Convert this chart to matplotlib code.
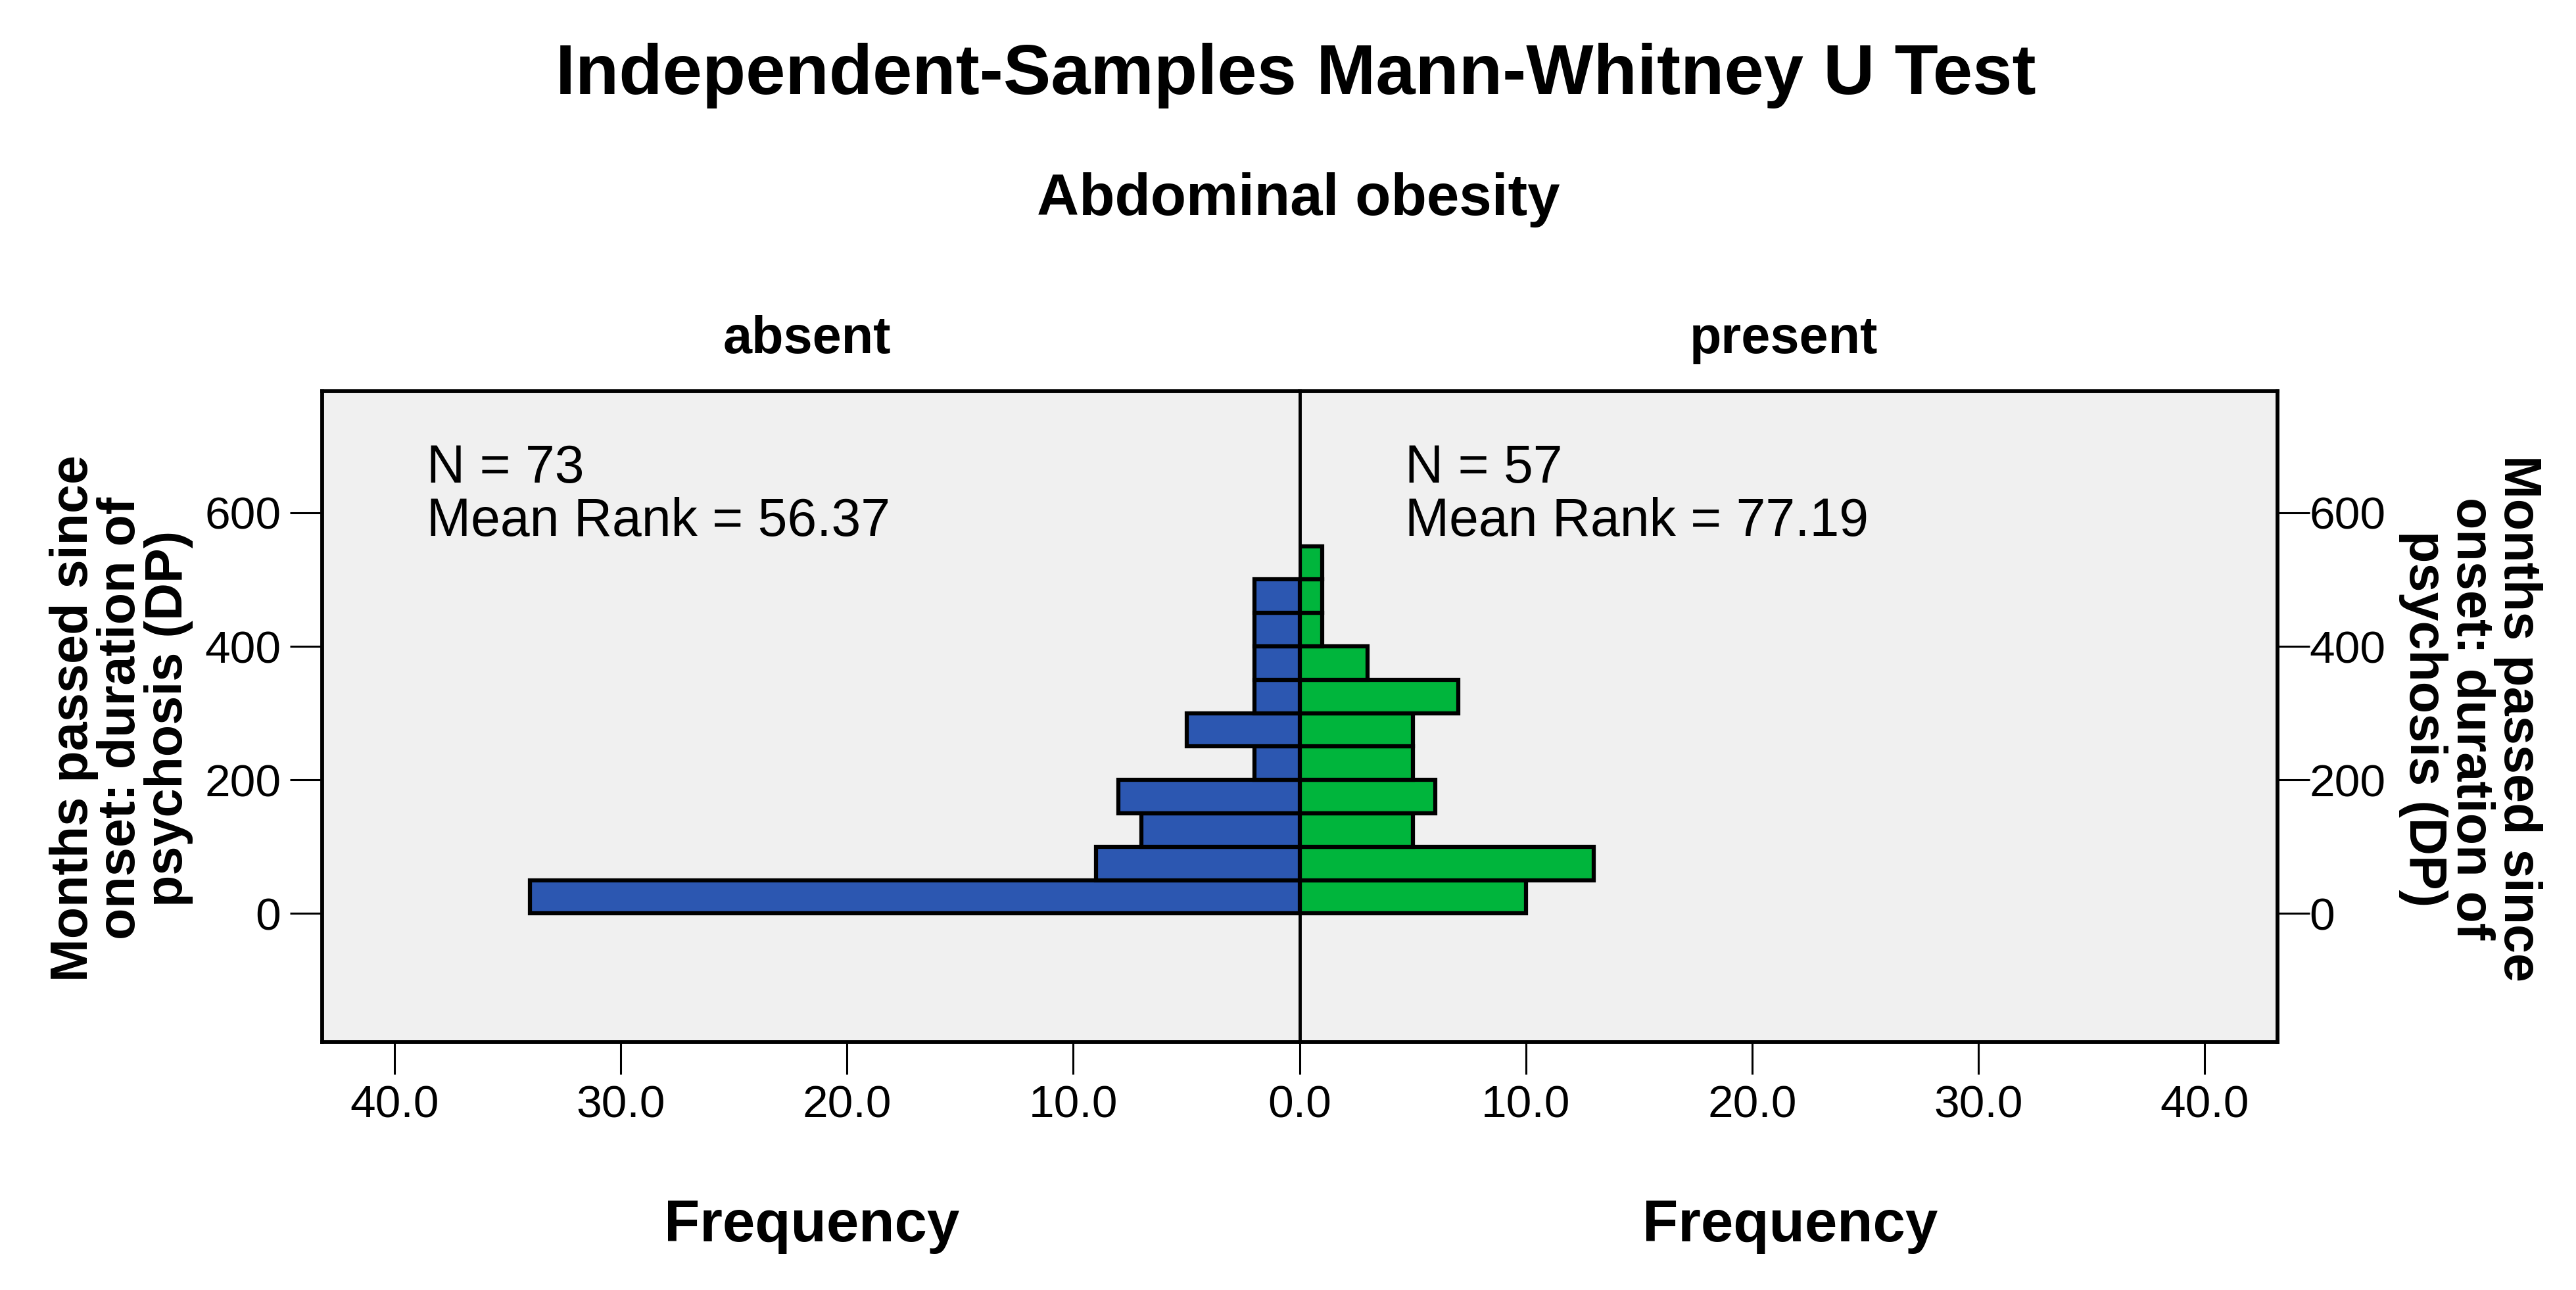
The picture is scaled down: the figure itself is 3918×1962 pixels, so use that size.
import matplotlib
matplotlib.use("Agg")
import matplotlib.pyplot as plt

plt.rcParams['font.family'] = ['Liberation Sans', 'DejaVu Sans']

# histogram bins (months, lower edge, width 50)
bin_starts = [0, 50, 100, 150, 200, 250, 300, 350, 400, 450, 500]
bin_width = 50
absent_counts = [34, 9, 7, 8, 2, 5, 2, 2, 2, 2, 0]
present_counts = [10, 13, 5, 6, 5, 5, 7, 3, 1, 1, 1]

groups = ["absent", "present"]
n_values = [73, 57]
mean_ranks = [56.37, 77.19]

x_ticks = [0, 10, 20, 30, 40]
y_ticks = [0, 200, 400, 600]
x_max = 43.2
y_lim = (-192, 782)

BLUE = "#2C57B1"
GREEN = "#00B53C"
BG = "#F0F0F0"

fig = plt.figure(figsize=(39.18, 19.62), dpi=100)

left, mid, right = 0.125, 0.5045, 0.884
bottom, top = 0.1924, 0.6968
ax_l = fig.add_axes([left, bottom, mid - left, top - bottom])
ax_r = fig.add_axes([mid, bottom, right - mid, top - bottom])
# left panel on top so its right spine (the centre line) is not covered
ax_l.set_zorder(2)
ax_r.set_zorder(1)

def draw(ax, counts, color):
    ys = [b for b, c in zip(bin_starts, counts) if c > 0]
    ws = [c for c in counts if c > 0]
    ax.barh(ys, ws, height=bin_width, align="edge", color=color,
            edgecolor="black", linewidth=4.5, zorder=1)
    ax.set_facecolor(BG)
    ax.set_ylim(*y_lim)
    ax.set_yticks(y_ticks)
    ax.set_xticks(x_ticks)
    ax.set_xticklabels([f"{t:.1f}" for t in x_ticks])
    ax.tick_params(axis="both", length=35, width=2.2, labelsize=50, color="black")
    ax.tick_params(axis="x", pad=12)
    for s in ax.spines.values():
        s.set_linewidth(4.2)

draw(ax_l, absent_counts, BLUE)
ax_l.set_xlim(x_max, 0)
ax_l.tick_params(axis="y", pad=10)
ax_l.spines["right"].set_linewidth(3.5)

draw(ax_r, present_counts, GREEN)
ax_r.set_xlim(0, x_max)
ax_r.set_xticks(x_ticks[1:])
ax_r.set_xticklabels([f"{t:.1f}" for t in x_ticks[1:]])
ax_r.spines["left"].set_visible(False)
ax_r.yaxis.tick_right()
ax_r.tick_params(axis="y", pad=0)

# titles
fig.text(0.503, 0.9271, "Independent-Samples Mann-Whitney U Test", ha="center",
         va="baseline", fontsize=78, fontweight="bold")
fig.text(0.504, 0.8333, "Abdominal obesity", ha="center", va="baseline",
         fontsize=64, fontweight="bold")
fig.text(0.3132, 0.7263, groups[0], ha="center", va="baseline", fontsize=57, fontweight="bold")
fig.text(0.6925, 0.7263, groups[1], ha="center", va="baseline", fontsize=57, fontweight="bold")

# N / mean rank annotations
for x, n, mr in [(0.1657, n_values[0], mean_ranks[0]), (0.5454, n_values[1], mean_ranks[1])]:
    fig.text(x, 0.6259, f"N = {n}", ha="left", va="baseline", fontsize=58)
    fig.text(x, 0.5846, f"Mean Rank = {mr:.2f}", ha="left", va="baseline", fontsize=58)

# x labels
fig.text(0.315, 0.0377, "Frequency", ha="center", va="baseline", fontsize=64, fontweight="bold")
fig.text(0.695, 0.0377, "Frequency", ha="center", va="baseline", fontsize=64, fontweight="bold")

# y labels
ylab = "Months passed since\nonset: duration of\npsychosis (DP)"
fig.text(0.047, 0.443, ylab, ha="center", va="center", rotation=90,
         fontsize=57, fontweight="bold", linespacing=0.95, multialignment="center")
fig.text(0.959, 0.443, ylab, ha="center", va="center", rotation=270,
         fontsize=57, fontweight="bold", linespacing=0.95, multialignment="center")

fig.savefig("out.png", dpi=100, facecolor="white")
